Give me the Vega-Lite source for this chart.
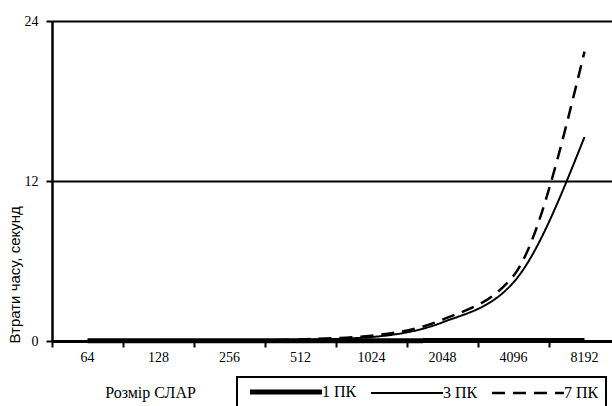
{
  "$schema": "https://vega.github.io/schema/vega-lite/v6.json",
  "width": 560,
  "height": 320,
  "autosize": {"type": "none"},
  "padding": {"left": 52, "top": 21, "right": 0, "bottom": 65},
  "background": "white",
  "config": {
    "view": {"stroke": null},
    "font": "Liberation Serif",
    "axis": {"labelColor": "black", "titleColor": "black", "domainColor": "black", "tickColor": "black", "gridColor": "black", "gridOpacity": 1, "labelFont": "Liberation Serif", "labelFontSize": 14, "titleFontWeight": "normal"},
    "legend": {
      "orient": "none",
      "legendX": 185,
      "legendY": 356,
      "direction": "horizontal",
      "padding": 7,
      "strokeColor": "black",
      "strokeWidth": 2,
      "fillColor": "white",
      "symbolType": "M-12,0H12",
      "symbolSize": 36,
      "symbolStrokeColor": "black",
      "symbolOffset": 34,
      "labelFont": "Liberation Serif",
      "labelFontSize": 16,
      "labelColor": "black",
      "labelOffset": 28,
      "columnPadding": 8
    }
  },
  "data": {
    "values": [
      {"size": 64, "series": "1 ПК", "t": 0.01},
      {"size": 128, "series": "1 ПК", "t": 0.01},
      {"size": 256, "series": "1 ПК", "t": 0.01},
      {"size": 512, "series": "1 ПК", "t": 0.02},
      {"size": 1024, "series": "1 ПК", "t": 0.02},
      {"size": 2048, "series": "1 ПК", "t": 0.03},
      {"size": 4096, "series": "1 ПК", "t": 0.03},
      {"size": 8192, "series": "1 ПК", "t": 0.04},
      {"size": 64, "series": "3 ПК", "t": 0.0},
      {"size": 128, "series": "3 ПК", "t": 0.01},
      {"size": 256, "series": "3 ПК", "t": 0.02},
      {"size": 512, "series": "3 ПК", "t": 0.08},
      {"size": 1024, "series": "3 ПК", "t": 0.3},
      {"size": 2048, "series": "3 ПК", "t": 1.4},
      {"size": 4096, "series": "3 ПК", "t": 4.4},
      {"size": 8192, "series": "3 ПК", "t": 15.3},
      {"size": 64, "series": "7 ПК", "t": 0.0},
      {"size": 128, "series": "7 ПК", "t": 0.01},
      {"size": 256, "series": "7 ПК", "t": 0.03},
      {"size": 512, "series": "7 ПК", "t": 0.12},
      {"size": 1024, "series": "7 ПК", "t": 0.4},
      {"size": 2048, "series": "7 ПК", "t": 1.6},
      {"size": 4096, "series": "7 ПК", "t": 4.9},
      {"size": 8192, "series": "7 ПК", "t": 21.7}
    ]
  },
  "mark": {"type": "line", "interpolate": "monotone", "color": "black", "clip": false},
  "encoding": {
    "x": {
      "field": "size",
      "type": "ordinal",
      "scale": {"type": "band", "range": [0, 568], "paddingInner": 0, "paddingOuter": 0},
      "axis": {
        "title": "Розмір СЛАР",
        "titleFont": "Liberation Serif",
        "titleFontSize": 16,
        "titleX": 98,
        "titleY": 51,
        "titleAlign": "center",
        "titleBaseline": "middle",
        "labelAngle": 0,
        "bandPosition": 0,
        "labelPadding": 3,
        "tickSize": 6,
        "tickWidth": 2,
        "domainWidth": 3,
        "grid": false
      }
    },
    "y": {
      "field": "t",
      "type": "quantitative",
      "scale": {"domain": [0, 24]},
      "axis": {
        "values": [0, 12, 24],
        "title": "Втрати часу, секунд",
        "titleFont": "Liberation Sans",
        "titleFontSize": 15,
        "titleAngle": 270,
        "titleAlign": "left",
        "titleBaseline": "middle",
        "titleX": -38,
        "titleY": 322,
        "labelPadding": 8,
        "tickSize": 6,
        "tickWidth": 2,
        "domainWidth": 2.5,
        "grid": true,
        "gridWidth": 2
      }
    },
    "strokeWidth": {
      "field": "series",
      "type": "nominal",
      "scale": {"type": "ordinal", "domain": ["1 ПК", "3 ПК", "7 ПК"], "range": [5, 2, 2.5]},
      "legend": {"title": null}
    },
    "strokeDash": {
      "field": "series",
      "type": "nominal",
      "scale": {"domain": ["1 ПК", "3 ПК", "7 ПК"], "range": [[1, 0], [1, 0], [13, 8]]},
      "legend": {"title": null}
    }
  }
}
